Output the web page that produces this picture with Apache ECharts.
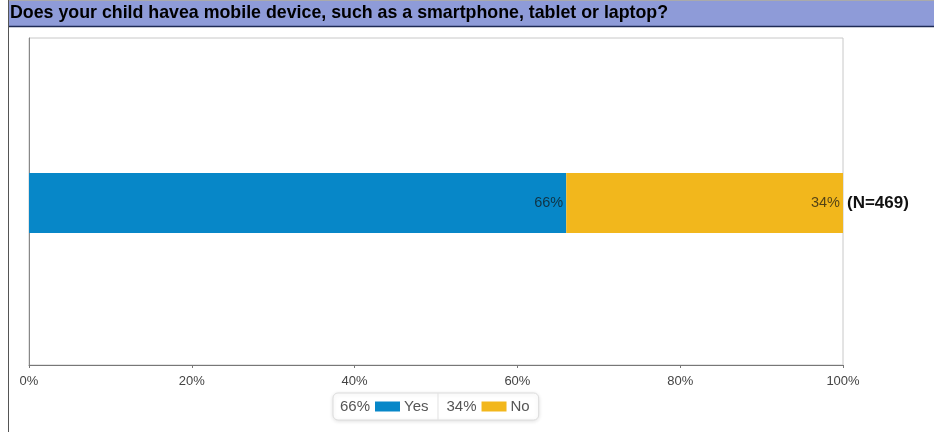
<!DOCTYPE html>
<html><head><meta charset="utf-8">
<script src="https://cdn.jsdelivr.net/npm/echarts@6/dist/echarts.min.js"></script>
<style>html,body{margin:0;padding:0;background:#fff}#c{width:934px;height:432px}</style>
</head><body><div id="c"></div>
<script>
const titleText = 'Does your child havea mobile device, such as a smartphone, tablet or laptop?';
const categories = ['Q'];
const seriesNames = ['Yes', 'No'];
const seriesValues = [[66], [34]];
const seriesColors = ['#0787c8', '#f2b71c'];
const nLabel = '(N=469)';
const xTicks = [0, 20, 40, 60, 80, 100];

const chart = echarts.init(document.getElementById('c'));
const series = seriesNames.map((name, i) => ({
  name, type: 'bar', stack: 'all', barWidth: 60, xAxisIndex: 1, yAxisIndex: 1,
  data: seriesValues[i],
  itemStyle: { color: seriesColors[i] },
  label: { show: true, position: 'insideRight', distance: 3,
    formatter: p => p.value + '%', color: 'rgba(20,20,20,0.72)', fontSize: 14.5, fontFamily: 'Liberation Sans' },
  emphasis: { disabled: true }
}));
series.push({
  type: 'bar', stack: 'all', data: [0], barWidth: 60, silent: true, xAxisIndex: 1, yAxisIndex: 1,
  itemStyle: { color: 'transparent' },
  label: { show: true, position: 'right', distance: 4, formatter: nLabel,
    color: '#111', fontSize: 17, fontWeight: 'bold', fontFamily: 'Liberation Sans' }
});

const g = w => ({ width: w, height: 1 });
chart.setOption({
  animation: false,
  grid: [
    { left: 29, right: 91, top: 38, bottom: 67, show: true, borderColor: '#c8c8c8', borderWidth: 1 },
    { left: 29, right: 91, top: 41, bottom: 67 }
  ],
  xAxis: [
    { gridIndex: 0, type: 'value', min: 0, max: 100, show: false },
    {
      gridIndex: 1, type: 'value', min: 0, max: 100, interval: 20,
      axisLine: { show: true, lineStyle: { color: '#777' } },
      axisTick: { show: true, length: 3, lineStyle: { color: '#777' } },
      splitLine: { show: false },
      axisLabel: { formatter: v => v + '%', color: '#444', fontSize: 13, fontFamily: 'Liberation Sans', margin: 10 }
    }
  ],
  yAxis: [
    { gridIndex: 0, type: 'category', data: categories, show: true,
      axisLine: { show: true, lineStyle: { color: '#888' } },
      axisTick: { show: false }, axisLabel: { show: false } },
    { gridIndex: 1, type: 'category', data: categories, show: false }
  ],
  legend: {
    top: 393, left: 333,
    data: seriesNames,
    icon: 'none', itemWidth: 0, itemGap: 0, itemHeight: 27,
    padding: [0, 9, 0, 2],
    backgroundColor: '#fff', borderColor: '#dcdcdc', borderWidth: 1, borderRadius: 5,
    shadowBlur: 4, shadowColor: 'rgba(0,0,0,0.12)', shadowOffsetY: 1,
    selectedMode: false,
    formatter: name => {
      const i = seriesNames.indexOf(name);
      const pre = i > 0 ? '{g3|}' : '';
      const post = i < seriesNames.length - 1 ? '{g9|}{sep|}' : '';
      return pre + '{p|' + seriesValues[i][0] + '%}{g5|}{b' + i + '|}{g4|}{t|' + name + '}' + post;
    },
    textStyle: {
      fontFamily: 'Liberation Sans', fontSize: 15, color: '#555',
      rich: {
        p: { fontSize: 15, color: '#555', verticalAlign: 'middle' },
        t: { fontSize: 15, color: '#555', verticalAlign: 'middle' },
        g3: g(3), g4: g(4), g5: g(5), g9: g(9),
        b0: { width: 25, height: 10, backgroundColor: seriesColors[0], verticalAlign: 'middle' },
        b1: { width: 25, height: 10, backgroundColor: seriesColors[1], verticalAlign: 'middle' },
        sep: { width: 1, height: 27, backgroundColor: '#e2e2e2', verticalAlign: 'middle' }
      }
    }
  },
  graphic: [
    { type: 'rect', shape: { x: 8.5, y: 0.5, width: 930, height: 26 }, style: { fill: '#8e9bd8', stroke: null }, z: 0 },
    { type: 'line', shape: { x1: 8, y1: 0.5, x2: 934, y2: 0.5 }, style: { stroke: '#aaa', lineWidth: 1 } },
    { type: 'line', shape: { x1: 8, y1: 26.5, x2: 934, y2: 26.5 }, style: { stroke: '#1e2a55', lineWidth: 1.5 } },
    { type: 'line', shape: { x1: 8.5, y1: 0, x2: 8.5, y2: 432 }, style: { stroke: '#555', lineWidth: 1 } },
    { type: 'text', left: 10, top: 4, style: { text: titleText, fill: '#000', font: 'bold 17.8px "Liberation Sans"' } }
  ],
  series
});
</script></body></html>
